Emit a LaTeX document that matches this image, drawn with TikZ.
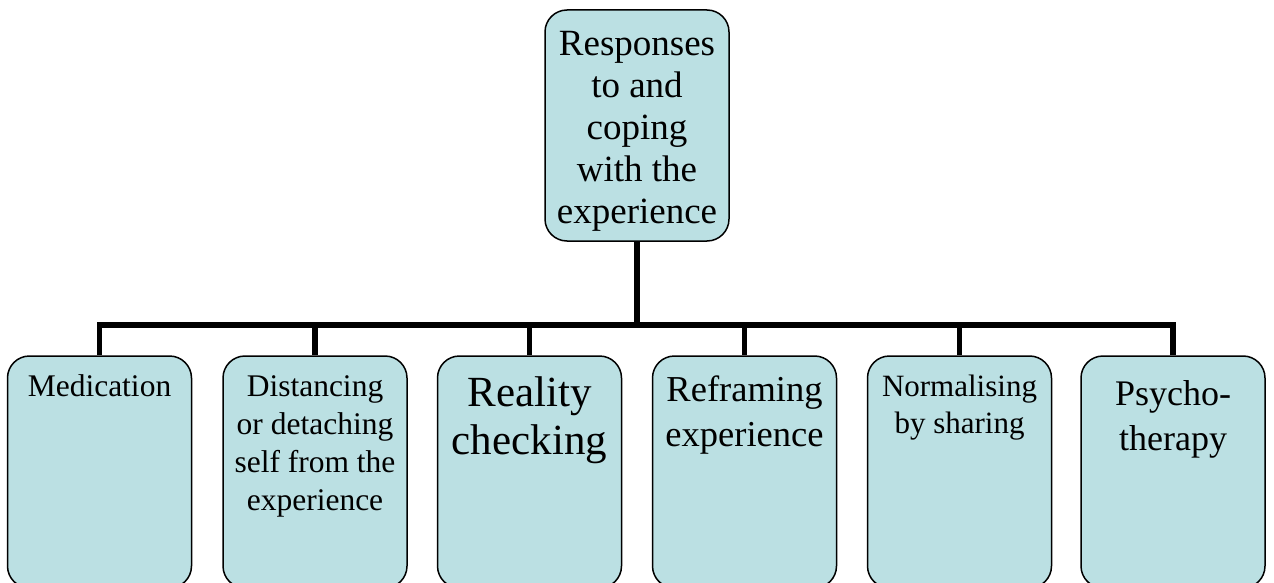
\documentclass[tikz,border=0pt]{standalone}
\usepackage{fontspec}
\setmainfont{Liberation Serif}
\definecolor{boxfill}{RGB}{187,224,227}
\tikzset{
  card/.style={draw=black, line width=1.5pt, fill=boxfill, rounded corners=22pt,
    rectangle, inner sep=0pt, minimum width=184pt},
  lbl/.style={anchor=north, align=center, inner sep=0pt, text=black},
  link/.style={line width=6pt, draw=black},
  drop/.style={line width=5.5pt, draw=black},
}
\begin{document}
\begin{tikzpicture}[x=1pt, y=-1pt]
  \useasboundingbox (0,0) rectangle (1274,583);
  \fill[white] (0,0) rectangle (1274,583);
  \clip (0,0) rectangle (1274,583);

  % root box
  \node[card, minimum height=231pt] (root) at (637,125.5) {};
  \node[lbl, font=\fontsize{37}{42}\selectfont] (troot) at (637,31.5)
    {Responses\\to and\\coping\\with the\\experience};

  % child boxes (they run past the lower edge)
  \foreach \n/\cx in {c1/99.5, c2/315, c3/529.5, c4/744.5, c5/959.5, c6/1173}
    \node[card, minimum height=232pt] (\n) at (\cx,472) {};

  \node[lbl, font=\fontsize{31.5}{38}\selectfont] (t1) at (99.5,374.5) {Medication};
  \node[lbl, font=\fontsize{31.5}{38}\selectfont] (t2) at (315,375.5)
    {Distancing\\or detaching\\self from the\\experience};
  \node[lbl, font=\fontsize{43}{48}\selectfont] (t3) at (529.5,376) {Reality\\checking};
  \node[lbl, font=\fontsize{36.5}{45}\selectfont] (t4) at (744.5,376) {Reframing\\experience};
  \node[lbl, font=\fontsize{31}{37}\selectfont] (t5) at (959.5,374.5) {Normalising\\by sharing};
  \node[lbl, font=\fontsize{36}{45}\selectfont] (t6) at (1173,380) {Psycho-\\therapy};

  % tree connectors
  \coordinate (bar) at (637,325);
  \draw[link] (root.south) -- (root.south |- bar);
  \draw[link, line cap=rect] (c1.north |- bar) -- (c6.north |- bar);
  \foreach \n in {c1,c2,c3,c4,c5,c6}
    \draw[drop] (\n.north |- bar) -- (\n.north);
\end{tikzpicture}
\end{document}
